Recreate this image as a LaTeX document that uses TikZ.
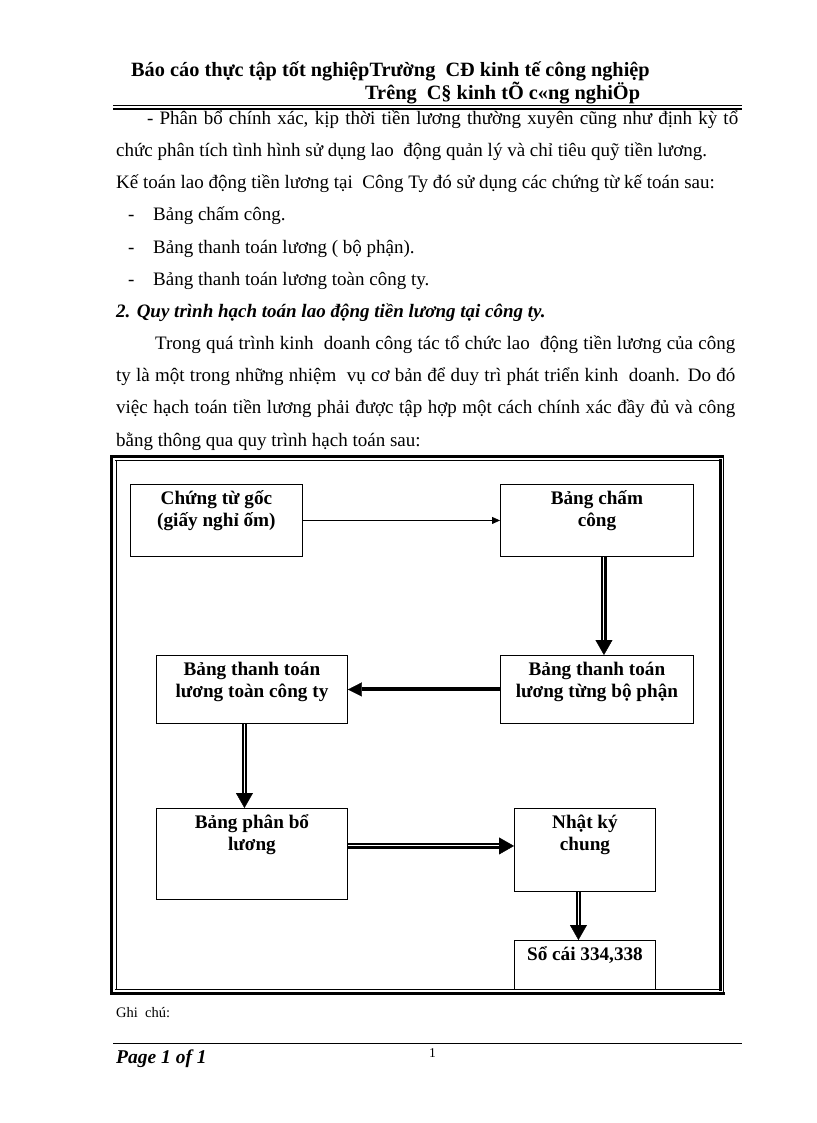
\documentclass[tikz,border=0pt]{standalone}
\usepackage{fontspec}
\setmainfont{Liberation Serif}
\usetikzlibrary{arrows.meta}
\newcommand\bxt[3]{\parbox[c][#2][t]{#1}{\centering\vspace*{6.5pt}#3\par}}
\newcommand\dblarr[2]{%
  \draw[line width=5.2pt,-{Triangle[width=17pt,length=15pt,line width=0.4pt]}] #1 -- #2;
  \draw[white,line width=1pt,shorten >=15pt] #1 -- #2;}
\begin{document}
\begin{tikzpicture}[x=1pt,y=-1pt,
  txt/.style={anchor=base west,inner sep=0,font=\fontsize{19}{22}\selectfont},
  hdr/.style={anchor=base west,inner sep=0,font=\bfseries\fontsize{20.3}{22}\selectfont},
  box/.style={draw,line width=0.9pt,inner sep=0,anchor=north west,
    font=\bfseries\fontsize{19.2}{22}\selectfont}]
\useasboundingbox (0,0) rectangle (816,1123);
% header
\node[hdr] (h1) at (131,77) {Báo cáo thực tập tốt nghiệpTrường\ \ CĐ kinh tế công nghiệp};
\node[hdr] (h2) at (365,100) {Trêng\ \ C§ kinh tÕ c«ng nghiÖp};
\draw[line width=1.3pt] (113,105.5) -- (742,105.5);
\draw[line width=1.3pt] (113,109) -- (742,109);
% body
\node[txt] (l1) at (147,125) {\makebox[591pt][s]{- Phân bổ chính xác, kịp thời tiền lương thường xuyên cũng như định kỳ tổ}};
\node[txt] (l2) at (116,157) {chức phân tích tình hình sử dụng lao\ \ động quản lý và chỉ tiêu quỹ tiền lương.};
\node[txt] (l3) at (116,189) {Kế toán lao động tiền lương tại\ \ Công Ty đó sử dụng các chứng từ kế toán sau:};
\node[txt] (d1) at (128,221) {-};
\node[txt] (t1) at (153,221) {Bảng chấm công.};
\node[txt] (d2) at (128,253) {-};
\node[txt] (t2) at (153,253) {Bảng thanh toán lương ( bộ phận).};
\node[txt] (d3) at (128,285) {-};
\node[txt] (t3) at (153,285) {Bảng thanh toán lương toàn công ty.};
\node[txt,font=\bfseries\itshape\fontsize{19}{22}\selectfont] (sec) at (116,317) {2. Quy trình hạch toán lao động tiền lương tại công ty.};
\node[txt] (p1) at (155,349) {\makebox[580pt][s]{Trong quá trình kinh\ \ doanh công tác tổ chức lao\ \ động tiền lương của công}};
\node[txt] (p2) at (116,381) {\makebox[619pt][s]{ty là một trong những nhiệm\ \ vụ cơ bản để duy trì phát triển kinh\ \ doanh. Do đó}};
\node[txt] (p3) at (116,413) {\makebox[619pt][s]{việc hạch toán tiền lương phải được tập hợp một cách chính xác đầy đủ và công}};
\node[txt] (p4) at (116,446) {bằng thông qua quy trình hạch toán sau:};
% frame
\draw[line width=3pt] (110,456) -- (724,456);
\draw[line width=0.9pt] (115,460.5) -- (720,460.5);
\draw[line width=3pt] (111.5,455) -- (111.5,994.5);
\draw[line width=0.9pt] (116,460) -- (116,989.5);
\draw[line width=3pt] (720,459) -- (720,991);
\draw[line width=0.9pt] (723.5,455) -- (723.5,994.5);
\draw[line width=0.9pt] (115,989.5) -- (721,989.5);
\draw[line width=3pt] (110,993) -- (725,993);
% boxes
\node[box] (b1) at (130,484) {\bxt{172pt}{72pt}{Chứng từ gốc\\(giấy nghỉ ốm)}};
\node[box] (b2) at (500,484) {\bxt{193pt}{72pt}{Bảng chấm\\công}};
\node[box] (b3) at (500,655) {\bxt{193pt}{68pt}{Bảng thanh toán\\lương từng bộ phận}};
\node[box] (b4) at (156,655) {\bxt{191pt}{68pt}{Bảng thanh toán\\lương toàn công ty}};
\node[box] (b5) at (156,808) {\bxt{191pt}{91pt}{Bảng phân bổ\\lương}};
\node[box] (b6) at (514,808) {\bxt{141pt}{83pt}{Nhật ký\\chung}};
\node[box] (b7) at (514,940) {\bxt{141pt}{49pt}{Sổ cái 334,338}};
% arrows
\draw[line width=0.8pt,-{Triangle[width=7pt,length=8pt]}] (b1.east) -- (b2.west);
\dblarr{([xshift=7pt]b2.south)}{([xshift=7pt]b3.north)}
\draw[line width=4pt,-{Triangle[width=14pt,length=14pt,line width=0.4pt]}] (b3.west) -- (b4.east);
\dblarr{([xshift=-7.5pt]b4.south)}{([xshift=-7.5pt]b5.north)}
\coordinate (p56) at ([yshift=8pt]b5.east);
\dblarr{(p56)}{(p56 -| b6.west)}
\dblarr{([xshift=-6.5pt]b6.south)}{([xshift=-6.5pt]b7.north)}
% footer
\node[txt,font=\fontsize{14.5}{16}\selectfont] (gc) at (116,1017) {Ghi\ \ chú:};
\draw[line width=0.8pt] (113,1043) -- (742,1043);
\node[txt,font=\bfseries\itshape\fontsize{19.5}{22}\selectfont] (pg) at (116,1063) {Page 1 of 1};
\node[txt,font=\fontsize{13.5}{15}\selectfont] (pn) at (429,1057) {1};
\end{tikzpicture}
\end{document}
